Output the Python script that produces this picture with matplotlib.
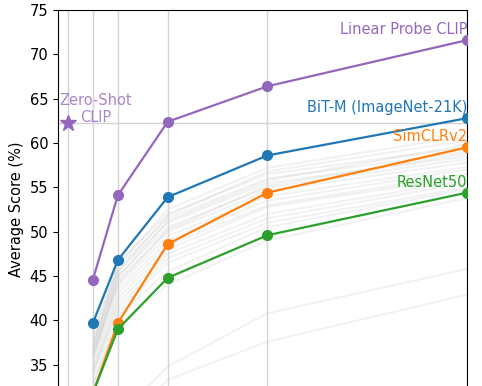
import matplotlib
matplotlib.use("Agg")
import matplotlib.pyplot as plt

shots = [1, 2, 4, 8, 16]
xticks = [0, 1, 2, 4, 8, 16]

linear_probe_clip = [44.6, 54.1, 62.4, 66.4, 71.6]
bit_m = [39.7, 46.8, 53.9, 58.6, 62.8]
simclr = [31.8, 39.7, 48.6, 54.4, 59.5]
resnet50 = [31.8, 39.0, 44.8, 49.6, 54.4]
zero_shot_clip = 62.3

other_models = [
    [33.5, 41.0, 46.5, 51.0, 55.0],
    [34.0, 42.0, 47.5, 52.0, 55.8],
    [35.0, 43.0, 48.5, 53.0, 56.5],
    [35.5, 43.5, 49.0, 53.5, 57.0],
    [36.0, 44.0, 49.5, 54.0, 57.3],
    [36.5, 44.5, 50.0, 54.6, 57.8],
    [37.0, 45.0, 50.5, 55.0, 58.2],
    [37.5, 45.5, 51.0, 55.5, 58.5],
    [38.0, 46.0, 51.5, 56.0, 59.0],
    [38.5, 46.5, 52.0, 56.5, 59.5],
    [35.8, 44.8, 51.2, 55.8, 59.8],
    [36.8, 45.5, 51.8, 56.8, 60.3],
    [37.2, 46.2, 52.5, 57.2, 60.8],
    [34.5, 42.5, 48.0, 52.8, 56.2],
    [32.5, 40.5, 45.5, 50.5, 54.8],
    [33.0, 39.5, 44.0, 49.0, 53.8],
    [34.2, 41.5, 47.0, 51.5, 55.5],
    [36.2, 44.2, 50.2, 55.2, 58.8],
    [25.0, 29.0, 34.8, 40.8, 45.8],
    [24.0, 27.5, 33.3, 37.6, 42.9],
]

series = [
    ("Linear Probe CLIP", linear_probe_clip, "tab:purple"),
    ("BiT-M (ImageNet-21K)", bit_m, "tab:blue"),
    ("SimCLRv2", simclr, "tab:orange"),
    ("ResNet50", resnet50, "tab:green"),
]

fig = plt.figure(figsize=(4.82, 3.86), dpi=100)
ax = fig.add_axes([58 / 482, -23 / 386, (467 - 58) / 482, 399 / 386])

for vals in other_models:
    ax.plot(shots, vals, color="gray", alpha=0.1, lw=1.5, zorder=1)

ax.axhline(zero_shot_clip, color="gray", alpha=0.35, lw=1, zorder=1)

for name, vals, c in series:
    ax.plot(shots, vals, color=c, marker="o", markersize=7, lw=1.6, zorder=3)
    ax.text(16, vals[-1] + 0.35, name, color=c, ha="right", va="bottom", fontsize=10.5)

ax.plot([0], [zero_shot_clip], marker="*", color="tab:purple", markersize=12, ls="none", zorder=3)
ax.text(1.1, zero_shot_clip - 0.25, "Zero-Shot\nCLIP", color="tab:purple", alpha=0.8,
        ha="center", va="bottom", fontsize=10.5, linespacing=1.15)

ax.set_xlim(-0.4, 16)
ax.set_ylim(30, 75)
ax.set_xticks(xticks)
ax.set_xticklabels([])
ax.tick_params(axis="x", length=0)
ax.set_yticks([35, 40, 45, 50, 55, 60, 65, 70, 75])
ax.tick_params(axis="y", labelsize=10.5)
ax.grid(axis="x", color="lightgray", lw=1)
ax.set_ylabel("Average Score (%)", fontsize=10.5)

fig.savefig("out.png", dpi=100)
